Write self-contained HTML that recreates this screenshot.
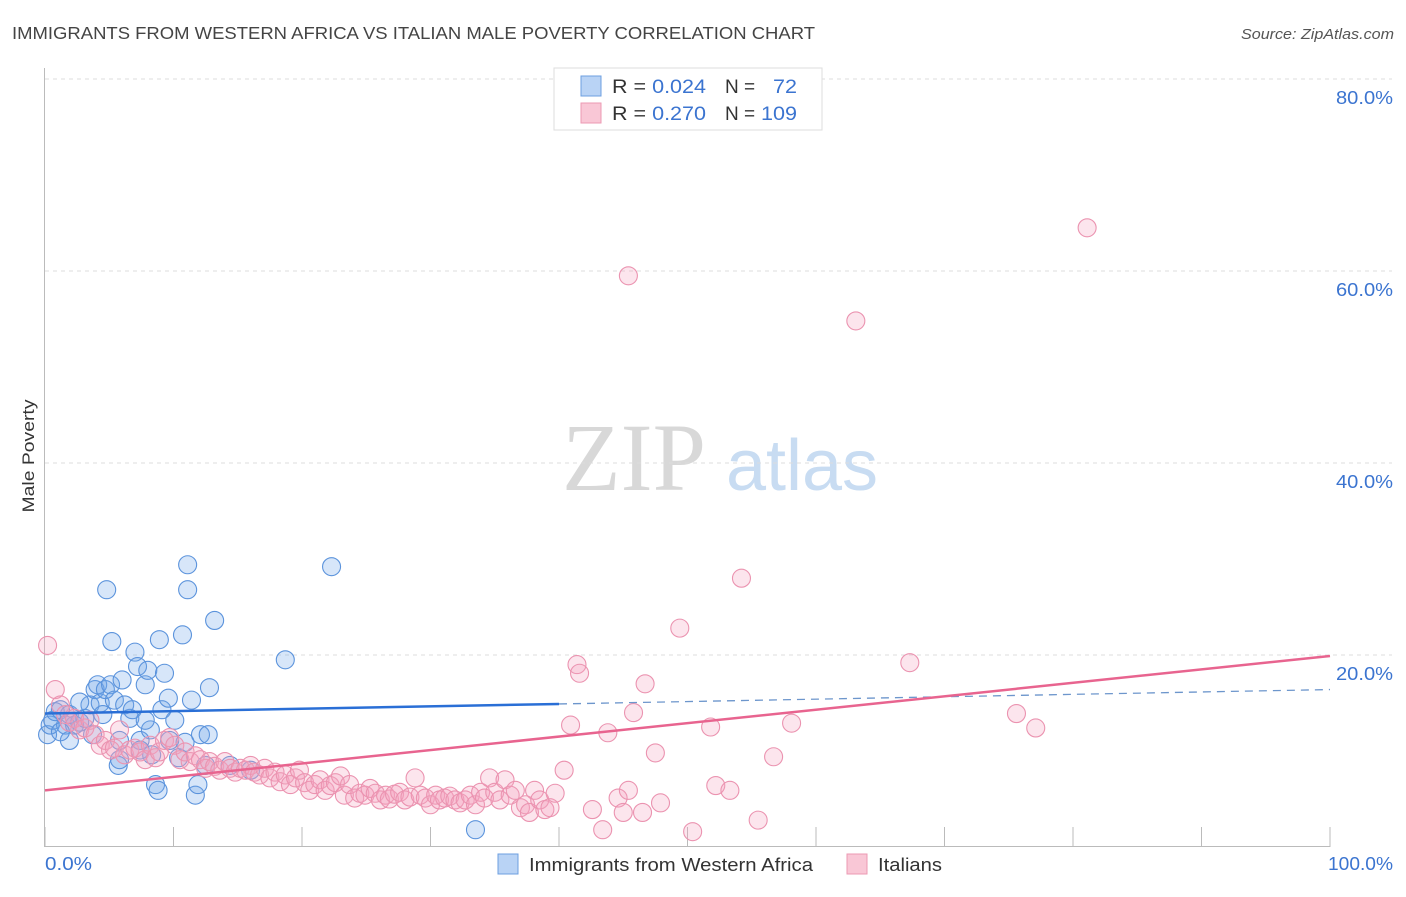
<!DOCTYPE html>
<html><head><meta charset="utf-8"><style>
body{margin:0;background:#fff;font-family:"Liberation Sans",sans-serif}
</style></head><body>
<svg id="c" width="1406" height="892" xmlns="http://www.w3.org/2000/svg">
<text x="12" y="39" font-size="17.5" fill="#444" textLength="803" lengthAdjust="spacingAndGlyphs">IMMIGRANTS FROM WESTERN AFRICA VS ITALIAN MALE POVERTY CORRELATION CHART</text>
<text x="1394" y="39" font-size="15" fill="#555" font-style="italic" text-anchor="end" textLength="153" lengthAdjust="spacingAndGlyphs">Source: ZipAtlas.com</text>
<text x="634" y="490" font-size="96" fill="#d8d8d8" font-family="Liberation Serif" text-anchor="middle">ZIP</text>
<text x="802" y="490" font-size="72" fill="#c8dcf2" text-anchor="middle">atlas</text>
<text transform="translate(34,456) rotate(-90)" font-size="17" fill="#333" text-anchor="middle" textLength="113" lengthAdjust="spacingAndGlyphs">Male Poverty</text>
<g id="grid"></g><g id="pts"></g><g id="lines"></g>
<g>
<rect x="554" y="68" width="268" height="62" fill="#fff" stroke="#ddd"/>
<rect x="581" y="76" width="20" height="20" fill="#b9d3f5" stroke="#6d9fe0"/>
<rect x="581" y="103" width="20" height="20" fill="#f9c7d6" stroke="#ec9ab3"/>
<text x="612" y="93" font-size="19" fill="#333" textLength="94" lengthAdjust="spacingAndGlyphs">R = <tspan fill="#3b74d0">0.024</tspan></text>
<text x="725" y="93" font-size="19" fill="#333">N = </text>
<text x="797" y="93" font-size="19" fill="#3b74d0" text-anchor="end" textLength="24" lengthAdjust="spacingAndGlyphs">72</text>
<text x="612" y="120" font-size="19" fill="#333" textLength="94" lengthAdjust="spacingAndGlyphs">R = <tspan fill="#3b74d0">0.270</tspan></text>
<text x="725" y="120" font-size="19" fill="#333">N = </text>
<text x="797" y="120" font-size="19" fill="#3b74d0" text-anchor="end" textLength="36" lengthAdjust="spacingAndGlyphs">109</text>
</g>
<g>
<rect x="498" y="854" width="20" height="20" fill="#b9d3f5" stroke="#6d9fe0"/>
<text x="529" y="871" font-size="18" fill="#333" textLength="284" lengthAdjust="spacingAndGlyphs">Immigrants from Western Africa</text>
<rect x="847" y="854" width="20" height="20" fill="#f9c7d6" stroke="#ec9ab3"/>
<text x="878" y="871" font-size="18" fill="#333" textLength="64" lengthAdjust="spacingAndGlyphs">Italians</text>
</g>
</svg>
<script>
const yTicks=[20,40,60,80];
const yTickLabels=["20.0%","40.0%","60.0%","80.0%"];
const xTicks=[0,10,20,30,40,50,60,70,80,90,100];
const blueX=[0.2,0.4,0.6,0.8,1.2,1.6,1.9,2.3,2.7,3.1,3.5,3.7,3.9,4.1,4.3,4.5,4.7,4.8,5.1,5.2,5.4,5.7,5.8,6.0,6.2,6.6,6.8,7.0,7.2,7.4,7.8,8.0,8.2,8.3,8.6,8.8,8.9,9.1,9.3,9.6,9.7,10.1,10.4,10.7,10.9,11.1,11.1,11.4,11.7,11.9,12.1,12.5,12.7,12.8,13.2,14.4,16.0,18.7,22.3,33.5,5.8,7.4,7.8,2.7,1.9,1.2];
const blueY=[11.7,12.7,13.2,14.1,14.3,12.7,13.8,12.7,13.0,13.4,14.8,11.7,16.4,16.9,15.0,13.8,16.4,26.8,16.9,21.4,15.3,8.5,11.1,17.4,14.8,13.4,14.3,20.3,18.8,11.1,16.9,18.4,12.2,9.6,6.5,5.9,21.6,14.3,18.1,15.5,11.1,13.2,9.3,22.1,10.9,29.4,26.8,15.3,5.4,6.5,11.7,8.5,11.7,16.6,23.6,8.5,8.0,19.5,29.2,1.8,9.1,10.1,13.2,15.1,11.1,12.0];
const pinkX=[0.2,0.8,1.2,1.6,1.9,2.3,2.7,3.1,3.5,3.9,4.3,4.7,5.1,5.4,5.8,6.2,6.6,7.0,7.4,7.8,8.2,8.6,8.9,9.3,9.7,10.1,10.5,10.9,11.3,11.7,12.1,12.5,12.8,13.2,13.6,14.0,14.4,14.8,15.2,15.6,16.0,16.3,16.7,17.1,17.5,17.9,18.3,18.7,19.1,19.5,19.8,20.2,20.6,21.0,21.4,21.8,22.2,22.6,23.0,23.3,23.7,24.1,24.5,24.9,25.3,25.7,26.1,26.5,26.8,27.2,27.6,28.0,28.4,28.8,29.2,29.6,30.0,30.4,30.7,31.1,31.5,31.9,32.3,32.7,33.1,33.5,33.9,34.2,34.6,35.0,35.4,35.8,36.2,36.6,37.0,37.4,37.7,38.1,38.5,38.9,39.3,39.7,40.4,40.9,41.4,41.6,42.6,43.4,43.8,44.6,45.0,45.4,45.8,46.5,46.7,47.5,47.9,49.4,50.4,51.8,52.2,53.3,54.2,55.5,56.7,58.1,63.1,67.3,75.6,77.1,81.1,45.4];
const pinkY=[21.0,16.4,14.8,13.8,13.0,13.4,12.2,12.4,13.2,11.7,10.6,11.1,10.1,10.3,12.2,9.6,10.1,10.3,9.9,9.1,10.6,9.3,9.9,11.1,11.4,10.6,9.1,9.9,8.9,9.5,9.1,8.2,8.9,8.4,8.0,8.9,8.2,7.8,8.2,8.0,8.5,7.8,7.5,8.2,7.2,7.8,6.8,7.5,6.5,7.2,8.0,6.7,5.9,6.5,7.0,5.9,6.4,6.7,7.4,5.4,6.5,5.1,5.6,5.4,6.1,5.6,4.9,5.4,5.0,5.5,5.7,4.9,5.2,7.2,5.4,5.1,4.4,5.4,4.9,5.1,5.3,4.9,4.6,4.9,5.4,4.4,5.7,5.1,7.2,5.7,4.9,7.0,5.4,5.9,4.1,4.4,3.6,5.9,4.9,3.9,4.1,5.6,8.0,12.7,19.0,18.1,3.9,1.8,11.9,5.1,3.6,5.9,14.0,3.6,17.0,9.8,4.6,22.8,1.6,12.5,6.4,5.9,28.0,2.8,9.4,12.9,54.8,19.2,13.9,12.4,64.5,59.5];
const blueTrend=[13.9,0.025];
const pinkTrend=[5.9,0.14];
const blueSolidEnd=40;
const NS="http://www.w3.org/2000/svg";
const sx=v=>45+v*12.85, sy=v=>847-v*9.6;
function mk(t,a,p){const e=document.createElementNS(NS,t);for(const k in a)e.setAttribute(k,a[k]);p.appendChild(e);return e;}
const grid=document.getElementById('grid');
yTicks.forEach((t,i)=>{
 const l=mk('line',{x1:45,x2:1392,y1:sy(t),y2:sy(t),stroke:'#ddd','stroke-dasharray':'4,4'},grid);
 
 
 const tx=mk('text',{x:1393,y:sy(t)+25,'font-size':18,fill:'#3b74d0','text-anchor':'end',textLength:57,lengthAdjust:'spacingAndGlyphs'},grid);
 tx.textContent=yTickLabels[i];
 
 
});
const tl=mk('line',{x1:45,x2:1392,y1:79,y2:79,stroke:'#ddd','stroke-dasharray':'4,4'},grid);


const ya=mk('line',{x1:44.5,x2:44.5,y1:68,y2:847,stroke:'#bbb'},grid);


const xa=mk('line',{x1:44,x2:1330,y1:846.5,y2:846.5,stroke:'#bbb'},grid);


xTicks.forEach(t=>{
 const l=mk('line',{x1:sx(t),x2:sx(t),y1:827,y2:847,stroke:'#bbb'},grid);
 
 
});
const x0=mk('text',{x:45,y:870,'font-size':18,fill:'#3b74d0',textLength:47,lengthAdjust:'spacingAndGlyphs'},grid);x0.textContent='0.0%';


const x1=mk('text',{x:1393,y:870,'font-size':18,fill:'#3b74d0','text-anchor':'end',textLength:65,lengthAdjust:'spacingAndGlyphs'},grid);x1.textContent='100.0%';


const pts=document.getElementById('pts');
blueX.forEach((x,i)=>{
 const c=mk('circle',{cx:sx(x),cy:sy(blueY[i]),r:9,fill:'rgba(110,165,235,0.28)',stroke:'#5b93dc','stroke-width':1.1},pts);
 
 
});
pinkX.forEach((x,i)=>{
 const c=mk('circle',{cx:sx(x),cy:sy(pinkY[i]),r:9,fill:'rgba(245,160,190,0.28)',stroke:'#eb93b0','stroke-width':1.1},pts);
 
 
});
const lines=document.getElementById('lines');
const bf=x=>blueTrend[0]+blueTrend[1]*x, pf=x=>pinkTrend[0]+pinkTrend[1]*x;
const b1=mk('line',{x1:sx(0),y1:sy(bf(0)),x2:sx(blueSolidEnd),y2:sy(bf(blueSolidEnd)),stroke:'#2a6fd6','stroke-width':2.5},lines);


const b2=mk('line',{x1:sx(blueSolidEnd),y1:sy(bf(blueSolidEnd)),x2:sx(100),y2:sy(bf(100)),stroke:'#6d96cc','stroke-width':1.3,'stroke-dasharray':'8,6'},lines);


const p1=mk('line',{x1:sx(0),y1:sy(pf(0)),x2:sx(100),y2:sy(pf(100)),stroke:'#e8648f','stroke-width':2.5},lines);


</script>
</body></html>
